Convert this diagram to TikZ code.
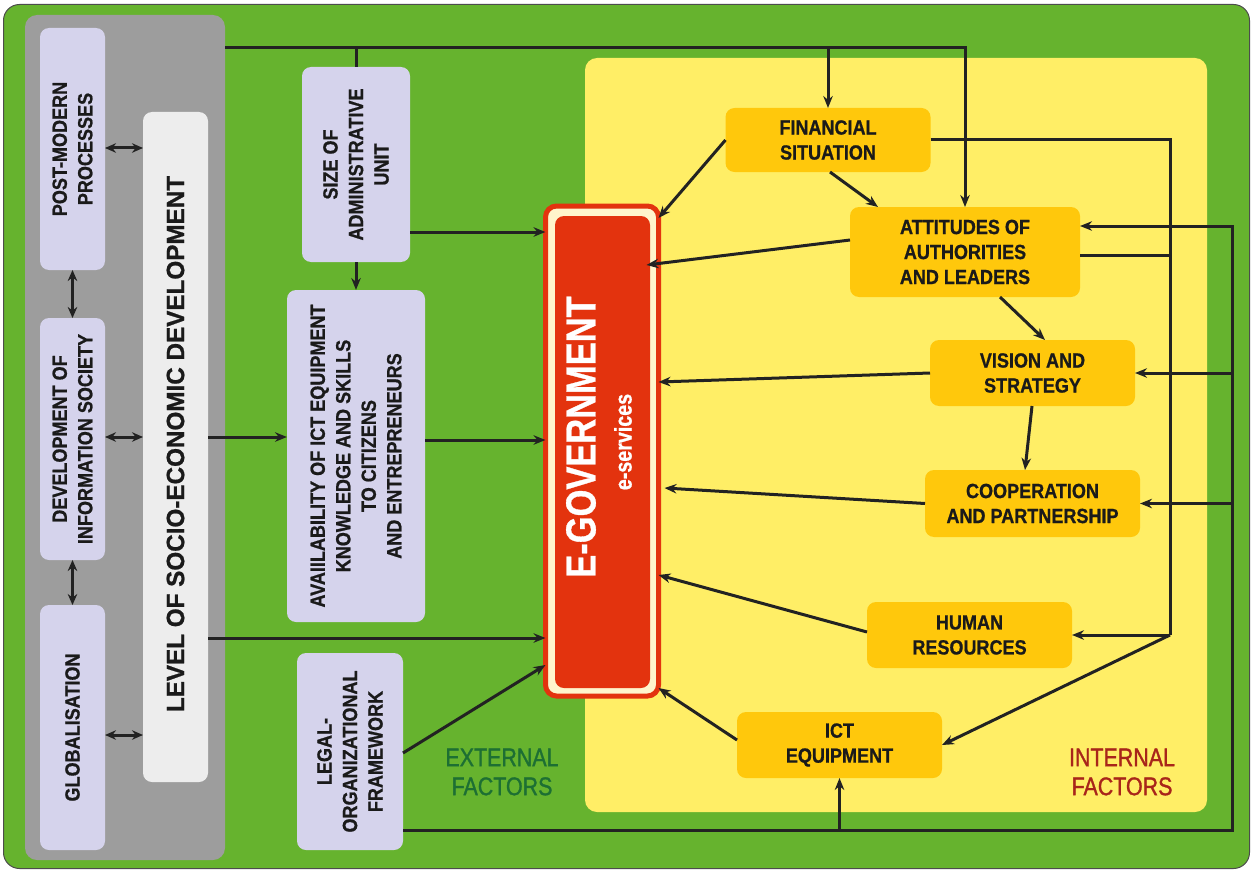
\documentclass[tikz,border=0pt]{standalone}
\usepackage{fontspec}
\setmainfont{Liberation Sans}
\newfontfamily\cf{Liberation Sans}[FakeStretch=0.88, BoldFeatures={FakeBold=0.8}]
\newfontfamily\ncf{Liberation Sans}[FakeStretch=0.82, BoldFeatures={FakeBold=0.8}]
\newfontfamily\wf{Liberation Sans}[FakeStretch=0.97, BoldFeatures={FakeBold=0.8}]
\newfontfamily\xf{Liberation Sans}[FakeStretch=0.84, FakeBold=1.2]
\usetikzlibrary{arrows.meta,calc}
\definecolor{bggreen}{HTML}{66B32E}
\definecolor{panelgray}{HTML}{9D9D9D}
\definecolor{lav}{HTML}{D5D3EC}
\definecolor{lvlgray}{HTML}{EDEDED}
\definecolor{ylw}{HTML}{FFEE66}
\definecolor{org}{HTML}{FFC80C}
\definecolor{egred}{HTML}{E3330E}
\definecolor{cream}{HTML}{FFF5CC}
\definecolor{linec}{HTML}{222222}
\definecolor{txt}{HTML}{1A1A1A}
\definecolor{extg}{HTML}{1D6F33}
\definecolor{intr}{HTML}{A8251A}
\begin{document}
\begin{tikzpicture}[x=1pt,y=-1pt,
  panel/.style={inner sep=0pt, outer sep=0pt},
  lavbox/.style={fill=lav, rounded corners=9pt, inner sep=0pt, outer sep=0pt},
  obox/.style={fill=org, rounded corners=9pt, inner sep=0pt, outer sep=0pt, align=center, text=txt,
     font={\cf\fontsize{20.5}{25}\selectfont\bfseries}},
  vtext/.style={rotate=90, align=center, text=txt, inner sep=0pt,
     font={\cf\fontsize{20.5}{25.5}\selectfont\bfseries}},
  conn/.style={line width=3pt, draw=linec},
  arr/.style={conn, -{Stealth[length=12pt,width=9.5pt]}},
  darr/.style={conn, {Stealth[length=11pt,width=9.5pt]}-{Stealth[length=11pt,width=9.5pt]}},
]
\useasboundingbox (0,0) rectangle (1253,872);
\fill[white] (0,0) rectangle (1253,872);
% panels
\node[panel, fill=bggreen, draw=black!70, line width=1pt, rounded corners=16pt,
      minimum width=1246pt, minimum height=864pt] (outer) at (626.5,436.5) {};
\node[panel, fill=panelgray, rounded corners=12pt, minimum width=200pt, minimum height=845pt] (gray) at (125,437.5) {};
\node[panel, fill=ylw, rounded corners=12pt, minimum width=622pt, minimum height=754pt] (yel) at (896,435) {};
% left boxes
\node[lavbox, minimum width=65pt, minimum height=242pt] (pm) at (72.5,149) {};
\node[vtext] (pmt) at (pm) {POST-MODERN\\PROCESSES};
\node[lavbox, minimum width=65pt, minimum height=242pt] (di) at (72.5,439) {};
\node[vtext] (dit) at (di) {DEVELOPMENT OF\\INFORMATION SOCIETY};
\node[lavbox, minimum width=65pt, minimum height=245pt] (gl) at (72.5,727.5) {};
\node[vtext] (glt) at (gl) {GLOBALISATION};
\node[lavbox, fill=lvlgray, minimum width=65pt, minimum height=670pt] (lvl) at (175.5,447) {};
\node[vtext, font={\wf\fontsize{25}{28}\selectfont\bfseries}] (lvlt) at (175.5,444) {LEVEL OF SOCIO-ECONOMIC DEVELOPMENT};
\node[lavbox, minimum width=108pt, minimum height=195pt] (size) at (356,164.5) {};
\node[vtext] (sizet) at (size) {SIZE OF\\ADMINISTRATIVE\\UNIT};
\node[lavbox, minimum width=138pt, minimum height=332pt] (avail) at (356,456) {};
\node[vtext] (availt) at (avail) {AVAIILABILITY OF ICT EQUIPMENT\\KNOWLEDGE AND SKILLS\\TO CITIZENS\\AND ENTREPRENEURS};
\node[lavbox, minimum width=106pt, minimum height=197pt] (legal) at (350,751.5) {};
\node[vtext] (legalt) at (legal) {LEGAL-\\ORGANIZATIONAL\\FRAMEWORK};
% e-government
\node[panel, fill=cream, draw=egred, line width=5pt, rounded corners=11pt,
      minimum width=113pt, minimum height=490pt] (eg) at (602,451) {};
\node[panel, fill=egred, rounded corners=9pt, minimum width=95pt, minimum height=472pt] (egin) at (602.5,452) {};
\node[rotate=90, text=white, inner sep=0pt, font={\ncf\fontsize{42}{46}\selectfont\bfseries}] (egt) at (581,437) {E-GOVERNMENT};
\node[rotate=90, text=white, inner sep=0pt, font={\ncf\fontsize{24}{28}\selectfont\bfseries}] (egs) at (623,442) {e-services};
% internal boxes
\node[obox, minimum width=205pt, minimum height=64pt] (fin) at (828,140) {FINANCIAL\\SITUATION};
\node[obox, minimum width=230pt, minimum height=90pt] (att) at (965,252) {ATTITUDES OF\\AUTHORITIES\\AND LEADERS};
\node[obox, minimum width=205pt, minimum height=66pt] (vis) at (1032.5,373) {VISION AND\\STRATEGY};
\node[obox, minimum width=215pt, minimum height=67pt] (coop) at (1032.5,503.5) {COOPERATION\\AND PARTNERSHIP};
\node[obox, minimum width=205pt, minimum height=66pt] (hum) at (969.5,635) {HUMAN\\RESOURCES};
\node[obox, minimum width=205pt, minimum height=66pt] (ict) at (839.5,745) {ICT\\EQUIPMENT};
% factor labels
\node[align=center, text=extg, inner sep=0pt, font={\xf\fontsize{25.5}{29}\selectfont}] (ext) at (502,772) {EXTERNAL\\FACTORS};
\node[align=center, text=intr, inner sep=0pt, font={\xf\fontsize{25.5}{29}\selectfont}] (int) at (1122,772) {INTERNAL\\FACTORS};
% junction coordinates
\coordinate (tl) at (965,48);
\coordinate (rj) at (1170,635);
\coordinate (rt) at (1170,140);
\coordinate (bl) at (1232,830);
\coordinate (br) at (1232,226);
% top line
\draw[arr] (gray.east |- tl) -- (tl) -- (att.north);
\draw[arr] (fin.north |- tl) -- (fin.north);
\draw[conn] (size.north |- tl) -- (size.north);
% right side lines
\draw[conn] (fin.east |- rt) -- (rt) -- (rj);
\draw[conn] (att.east |- 0,255) -- (rj |- 0,255);
\draw[arr] (rj) -- (hum.east);
\draw[arr] (rj) -- (ict.east);
\draw[arr] (legal.east |- bl) -- (bl) -- (br) -- (att.east |- br);
\draw[arr] (bl |- 0,373) -- (vis.east);
\draw[arr] (bl |- 0,503.5) -- (coop.east);
\draw[arr] (ict.south |- bl) -- (ict.south);
% internal chain
\draw[arr] (fin.south -| 830,0) -- (att.north -| 878,0);
\draw[arr] (att.south -| 1000,0) -- (vis.north -| 1045,0);
\draw[arr] (vis.south -| 1032,0) -- (coop.north -| 1025,0);
% into e-government from right
\draw[arr] (fin.west) -- (eg.east |- 0,218);
\draw[arr] (att.west |- 0,240) -- ($(eg.east |- 0,265)+(-12,0)$);
\draw[arr] (vis.west) -- (eg.east |- 0,382);
\draw[arr] (coop.west) -- ($(eg.east |- 0,488)+(6,0)$);
\draw[arr] (hum.west |- 0,632) -- (eg.east |- 0,575);
\draw[arr] (ict.west |- 0,740) -- (eg.east |- 0,688);
% into e-government from left
\draw[arr] (size.east |- 0,232) -- (eg.west |- 0,232);
\draw[arr] (size.south) -- (avail.north);
\draw[arr] (avail.east |- 0,440) -- (eg.west |- 0,440);
\draw[arr] (lvl.east |- 0,437) -- (avail.west |- 0,437);
\draw[arr] (lvl.east |- 0,638) -- (eg.west |- 0,638);
\draw[arr] (legal.east |- 0,753) -- (eg.west |- 0,665);
% left double arrows
\draw[darr] (pm.east |- 0,148) -- (lvl.west |- 0,148);
\draw[darr] (di.east |- 0,437) -- (lvl.west |- 0,437);
\draw[darr] (gl.east |- 0,735) -- (lvl.west |- 0,735);
\draw[darr] (pm.south) -- (di.north);
\draw[darr] (di.south) -- (gl.north);
\end{tikzpicture}
\end{document}
